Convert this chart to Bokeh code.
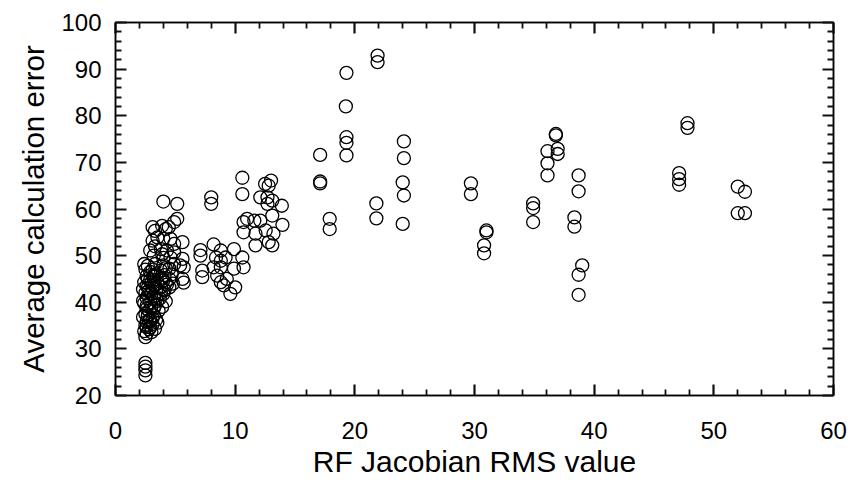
from bokeh.plotting import figure
from bokeh.models import Range1d, LinearAxis, FixedTicker, CustomJSTickFormatter, ColumnDataSource
from bokeh.embed import file_html
from bokeh.resources import INLINE

# ---- data ----
x_low = [2.5, 2.5, 2.5, 2.5]
y_low = [27.0, 26.2, 25.4, 24.3]

x_col1 = [2.4, 2.5, 2.6, 2.4, 2.7, 2.5, 2.6, 2.4, 2.6, 2.5, 2.3, 2.6, 2.5, 2.8, 2.6, 2.5,
          2.9, 2.9, 2.8, 2.9, 2.8, 2.9, 2.9,
          2.7, 2.7, 2.6, 2.7, 2.6, 2.7, 2.6, 2.4, 2.8, 2.3, 2.3]
y_col1 = [48.2, 47.0, 45.6, 44.3, 43.1, 42.0, 40.9, 39.8, 38.6, 37.5, 36.8, 35.8, 35.0, 34.2, 33.3, 32.5,
          34.6, 36.4, 38.2, 40.0, 42.5, 44.8, 46.5,
          47.8, 45.0, 43.6, 41.5, 39.2, 37.0, 34.7, 33.8, 36.0, 42.8, 40.3]

x_col2 = [3.1, 3.5, 3.1, 3.3, 2.9, 3.2, 3.3, 3.1, 3.4, 3.2, 3.5, 3.1, 3.4, 3.2, 3.5, 3.3,
          3.6, 3.2, 3.4, 3.1, 3.3, 3.0,
          3.3, 3.2, 3.0, 3.3, 3.0, 3.4, 3.0, 3.2, 3.1, 3.5, 3.2]
y_col2 = [56.1, 53.9, 53.2, 52.0, 51.1, 50.0, 48.2, 47.0, 46.0, 44.8, 44.0, 43.0, 42.2, 41.2, 40.3, 39.3,
          38.2, 37.2, 36.3, 35.3, 34.3, 33.6,
          55.3, 45.5, 44.2, 43.6, 41.8, 40.8, 39.0, 38.6, 36.6, 35.6, 45.8]

x_col3 = [3.9, 4.2, 4.0, 3.8, 4.3, 4.0, 4.0, 3.8, 4.1, 3.9, 4.2, 3.8, 4.1, 4.0, 3.7, 4.2, 3.9, 4.0,
          4.0, 3.8, 4.3, 4.2, 3.9]
y_col3 = [56.4, 55.7, 53.6, 51.4, 51.1, 49.5, 47.9, 46.8, 45.8, 45.0, 44.2, 43.3, 42.6, 41.8, 40.8, 40.2,
          39.0, 61.6,
          44.7, 42.0, 43.8, 47.3, 50.3]

x_col4 = [4.45, 4.6, 4.9, 4.9, 4.9, 4.6, 4.9, 4.5, 4.7, 4.5, 4.8, 4.5,
          5.16, 5.16, 5.6, 5.6, 5.7, 5.4, 5.6, 5.7]
y_col4 = [56.1, 53.6, 57.2, 52.5, 50.7, 49.6, 48.2, 47.2, 46.0, 45.0, 44.0, 43.2,
          61.1, 57.9, 52.9, 49.3, 47.5, 47.9, 45.0, 44.2]

x_mid = [7.1, 7.1, 7.25, 7.25, 8.0, 8.0,
         8.2, 8.8, 9.9, 8.4, 8.8, 9.2, 10.6, 8.2, 8.8, 9.9, 10.7, 8.8, 9.3, 10.0, 9.6, 8.5, 9.05]
y_mid = [51.2, 50.0, 46.8, 45.4, 62.5, 61.1,
         52.4, 51.1, 51.4, 49.6, 48.9, 49.6, 49.6, 47.5, 47.5, 47.2, 47.5, 44.3, 45.0, 43.2, 41.8, 45.7, 43.6]

x_c12 = [10.6, 10.6, 13.0, 12.5, 12.8, 12.1, 12.7, 13.1, 12.7, 13.9, 13.1, 13.95,
         11.0, 10.7, 11.6, 12.1, 10.7, 11.7, 12.55, 13.2, 11.7, 12.8, 13.1]
y_c12 = [66.7, 63.2, 66.1, 65.4, 65.0, 62.5, 62.5, 61.8, 61.1, 60.7, 58.6, 56.6,
         57.9, 57.2, 57.5, 57.5, 55.0, 54.7, 55.4, 54.7, 52.2, 52.9, 52.2]

x_high = [17.1, 17.1, 17.1, 17.9, 17.9,
          19.3, 19.25, 19.3, 19.3, 19.3,
          21.9, 21.9, 21.8, 21.8,
          24.1, 24.1, 24.0, 24.1, 24.0,
          29.7, 29.7,
          31.0, 31.0, 30.8, 30.8,
          34.9, 34.9, 34.9,
          36.8, 36.8, 36.1, 36.95, 36.95, 36.1, 36.1,
          38.7, 38.7, 38.35, 38.35, 39.0, 38.7, 38.7,
          47.8, 47.8, 47.1, 47.1, 47.1,
          52.0, 52.6, 52.0, 52.6]
y_high = [71.6, 65.9, 65.5, 57.9, 55.7,
          89.2, 82.0, 75.4, 74.2, 71.5,
          92.9, 91.5, 61.2, 58.0,
          74.5, 70.9, 65.7, 62.9, 56.8,
          65.5, 63.2,
          55.4, 55.0, 52.2, 50.5,
          61.2, 60.2, 57.2,
          76.1, 75.8, 72.4, 72.9, 71.8, 69.8, 67.2,
          67.2, 63.8, 58.2, 56.2, 47.9, 45.9, 41.6,
          78.4, 77.4, 67.7, 66.4, 65.2,
          64.8, 63.7, 59.1, 59.1]

x_major = [0, 10, 20, 30, 40, 50, 60]
x_minor = [2, 4, 6, 8, 12, 14, 16, 18, 22, 24, 26, 28, 32, 34, 36, 38,
           42, 44, 46, 48, 52, 54, 56, 58]
y_major = [20, 30, 40, 50, 60, 70, 80, 90, 100]
y_minor = [22, 24, 26, 28, 32, 34, 36, 38, 42, 44, 46, 48, 52, 54, 56, 58,
           62, 64, 66, 68, 72, 74, 76, 78, 82, 84, 86, 88, 92, 94, 96, 98]

x_label = "RF Jacobian RMS value"
y_label = "Average calculation error"

xs = x_low + x_col1 + x_col2 + x_col3 + x_col4 + x_mid + x_c12 + x_high
ys = y_low + y_col1 + y_col2 + y_col3 + y_col4 + y_mid + y_c12 + y_high
src = ColumnDataSource(dict(x=xs, y=ys))

FONT = "Liberation Sans"

p = figure(width=848, height=482, output_backend="svg", toolbar_location=None,
           x_range=Range1d(0, 60), y_range=Range1d(20, 100),
           min_border_left=115, min_border_right=15, min_border_top=22, min_border_bottom=87)
p.grid.visible = False
p.outline_line_color = "black"
p.outline_line_width = 1.5

p.scatter("x", "y", source=src, marker="circle", size=13, fill_color=None,
          line_color="black", line_width=1.3)

blank = CustomJSTickFormatter(code="return ''")

def style(ax, major, minor):
    ax.ticker = FixedTicker(ticks=major, minor_ticks=minor)
    ax.axis_line_color = "black"
    ax.axis_line_width = 1.5
    ax.major_tick_in = 11
    ax.major_tick_out = 0
    ax.minor_tick_in = 6
    ax.minor_tick_out = 0
    ax.major_tick_line_color = "#111111"
    ax.minor_tick_line_color = "#111111"
    ax.major_tick_line_width = 2.2
    ax.minor_tick_line_width = 1.8
    ax.major_label_text_font = FONT
    ax.major_label_text_font_size = "24px"
    ax.major_label_text_color = "black"
    ax.axis_label_text_font = FONT
    ax.axis_label_text_font_size = "30px"
    ax.axis_label_text_font_style = "normal"
    ax.axis_label_text_color = "black"

xb = p.xaxis[0]
style(xb, x_major, x_minor)
xb.axis_label = x_label
xb.major_label_standoff = 26
xb.axis_label_standoff = 3

yl = p.yaxis[0]
style(yl, y_major, y_minor)
yl.axis_label = y_label
yl.axis_label_text_font_size = "29.5px"
yl.major_label_standoff = 14
yl.axis_label_standoff = 8

xt = LinearAxis()
style(xt, x_major, x_minor)
xt.formatter = blank
xt.major_label_standoff = 0
p.add_layout(xt, "above")

yr = LinearAxis()
style(yr, y_major, y_minor)
yr.formatter = blank
yr.major_label_standoff = 0
p.add_layout(yr, "right")

open("out.html", "w").write(file_html(p, INLINE))
